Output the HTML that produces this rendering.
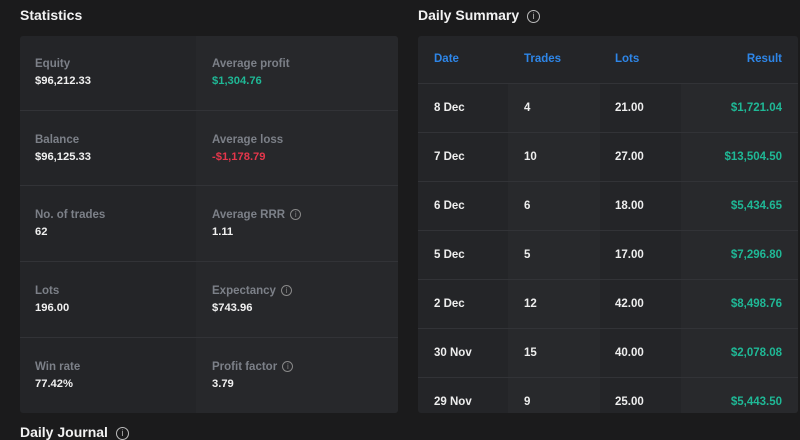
<!DOCTYPE html>
<html><head><style>
body{margin:0;width:800px;height:430px;overflow:hidden;background:#1b1b1c;font-family:"Liberation Sans",sans-serif;position:relative}
.h{position:absolute;color:#f2f2f2;font-weight:bold;font-size:14px}
.info{display:inline-block;width:11px;height:11px;border:1px solid #bbb;border-radius:50%;font-size:9px;line-height:11px;text-align:center;color:#bbb;font-weight:normal;vertical-align:1px;margin-left:4px}
.i2{width:9px;height:9px;line-height:9px;font-size:8px;border-color:#888;color:#888;margin-left:2px}
#stats{position:absolute;left:20px;top:36px;width:378px;height:377px;background:#242528;border-radius:3px;overflow:hidden}
#stats .colr{position:absolute;left:176px;top:0;width:202px;height:377px;background:#27282b}
.sep{position:absolute;left:0;width:100%;height:1px;background:#323337}
.lab{position:absolute;color:#7c8088;font-weight:bold;font-size:11.5px}
.val{position:absolute;color:#f0f0f0;font-weight:bold;font-size:11.2px}
#daily{position:absolute;left:418px;top:36px;width:380px;height:377px;background:#242528;border-radius:3px;overflow:hidden}
.c{position:absolute;top:47px;height:330px;background:#28292c}
.t{position:absolute;color:#eee;font-weight:bold;font-size:11.5px}
.th{position:absolute;color:#2e86e8;font-weight:bold;font-size:11.5px;top:17px}
.g{color:#1fb896}
</style></head><body>
<div class="h" style="left:20px;top:7px">Statistics</div>
<div class="h" style="left:418px;top:7px">Daily Summary <span class="info">i</span></div>
<div id="stats"><div class="colr"></div>
<div class="sep" style="top:74px"></div><div class="sep" style="top:149px"></div><div class="sep" style="top:225px"></div><div class="sep" style="top:301px"></div>
<div class="lab" style="left:15px;top:22px">Equity</div><div class="val" style="left:15px;top:39px">$96,212.33</div>
<div class="lab" style="left:192px;top:22px">Average profit</div><div class="val g" style="left:192px;top:39px">$1,304.76</div>
<div class="lab" style="left:15px;top:98px">Balance</div><div class="val" style="left:15px;top:115px">$96,125.33</div>
<div class="lab" style="left:192px;top:98px">Average loss</div><div class="val" style="left:192px;top:115px;color:#e5364b">-$1,178.79</div>
<div class="lab" style="left:15px;top:173px">No. of trades</div><div class="val" style="left:15px;top:190px">62</div>
<div class="lab" style="left:192px;top:173px">Average RRR <span class="info i2">i</span></div><div class="val" style="left:192px;top:190px">1.11</div>
<div class="lab" style="left:15px;top:249px">Lots</div><div class="val" style="left:15px;top:266px">196.00</div>
<div class="lab" style="left:192px;top:249px">Expectancy <span class="info i2">i</span></div><div class="val" style="left:192px;top:266px">$743.96</div>
<div class="lab" style="left:15px;top:325px">Win rate</div><div class="val" style="left:15px;top:342px">77.42%</div>
<div class="lab" style="left:192px;top:325px">Profit factor <span class="info i2">i</span></div><div class="val" style="left:192px;top:342px">3.79</div>
</div>
<div id="daily">
<div class="c" style="left:90px;width:92px"></div><div class="c" style="left:263px;width:117px"></div>
<div class="th" style="left:16px">Date</div><div class="th" style="left:106px">Trades</div><div class="th" style="left:197px">Lots</div><div class="th" style="right:16px">Result</div>
<div class="sep" style="top:47px"></div><div class="sep" style="top:96px"></div><div class="sep" style="top:145px"></div><div class="sep" style="top:194px"></div><div class="sep" style="top:243px"></div><div class="sep" style="top:292px"></div><div class="sep" style="top:341px"></div>
<div class="t" style="left:16px;top:66px">8 Dec</div><div class="t" style="left:106px;top:66px">4</div><div class="t" style="left:197px;top:66px">21.00</div><div class="t g" style="right:16px;top:66px">$1,721.04</div>
<div class="t" style="left:16px;top:115px">7 Dec</div><div class="t" style="left:106px;top:115px">10</div><div class="t" style="left:197px;top:115px">27.00</div><div class="t g" style="right:16px;top:115px">$13,504.50</div>
<div class="t" style="left:16px;top:164px">6 Dec</div><div class="t" style="left:106px;top:164px">6</div><div class="t" style="left:197px;top:164px">18.00</div><div class="t g" style="right:16px;top:164px">$5,434.65</div>
<div class="t" style="left:16px;top:213px">5 Dec</div><div class="t" style="left:106px;top:213px">5</div><div class="t" style="left:197px;top:213px">17.00</div><div class="t g" style="right:16px;top:213px">$7,296.80</div>
<div class="t" style="left:16px;top:262px">2 Dec</div><div class="t" style="left:106px;top:262px">12</div><div class="t" style="left:197px;top:262px">42.00</div><div class="t g" style="right:16px;top:262px">$8,498.76</div>
<div class="t" style="left:16px;top:311px">30 Nov</div><div class="t" style="left:106px;top:311px">15</div><div class="t" style="left:197px;top:311px">40.00</div><div class="t g" style="right:16px;top:311px">$2,078.08</div>
<div class="t" style="left:16px;top:360px">29 Nov</div><div class="t" style="left:106px;top:360px">9</div><div class="t" style="left:197px;top:360px">25.00</div><div class="t g" style="right:16px;top:360px">$5,443.50</div>
</div>
<div class="h" style="left:20px;top:424px">Daily Journal <span class="info">i</span></div>
</body></html>
